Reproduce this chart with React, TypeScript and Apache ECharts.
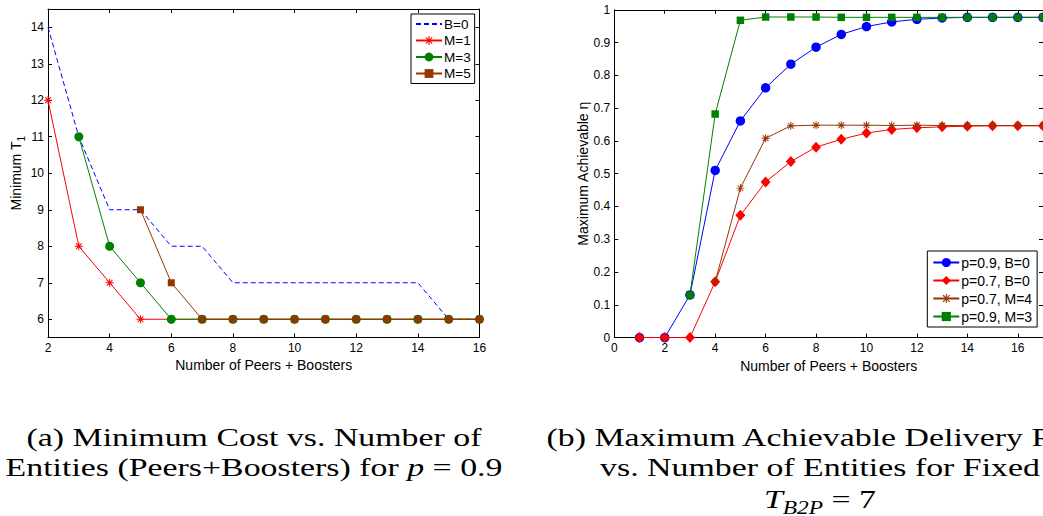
import React, { useEffect, useRef } from 'react';
import * as echarts from 'echarts';

// ---------- data ----------
const leftX = [2, 3, 4, 5, 6, 7, 8, 9, 10, 11, 12, 13, 14, 15, 16];
const leftB0 = [14, 11, 9, 9, 8, 8, 7, 7, 7, 7, 7, 7, 7, 6, 6];
const leftM1 = [12, 8, 7, 6, 6, 6, 6, 6, 6, 6, 6, 6, 6, 6, 6];
const leftM3 = [null, 11, 8, 7, 6, 6, 6, 6, 6, 6, 6, 6, 6, 6, 6];
const leftM5 = [null, null, null, 9, 7, 6, 6, 6, 6, 6, 6, 6, 6, 6, 6];
const leftNames = ['B=0', 'M=1', 'M=3', 'M=5'];
const leftXTicks = [2, 4, 6, 8, 10, 12, 14, 16];
const leftYTicks = [6, 7, 8, 9, 10, 11, 12, 13, 14];

const rightX = [1, 2, 3, 4, 5, 6, 7, 8, 9, 10, 11, 12, 13, 14, 15, 16, 17];
const rightP09B0 = [0, 0, 0.13, 0.51, 0.661, 0.762, 0.834, 0.886, 0.925, 0.949, 0.963, 0.971, 0.975, 0.977, 0.977, 0.977, 0.977];
const rightP07B0 = [0, 0, 0, 0.17, 0.373, 0.475, 0.537, 0.581, 0.605, 0.624, 0.635, 0.64, 0.643, 0.645, 0.646, 0.646, 0.646];
const rightP07M4 = [null, null, null, 0.17, 0.456, 0.608, 0.646, 0.648, 0.648, 0.648, 0.647, 0.648, 0.647, 0.647, 0.647, 0.647, 0.647];
const rightP09M3 = [null, null, 0.13, 0.682, 0.968, 0.978, 0.978, 0.978, 0.977, 0.977, 0.977, 0.977, 0.977, 0.977, 0.977, 0.977, 0.977];
const rightNames = ['p=0.9, B=0', 'p=0.7, B=0', 'p=0.7, M=4', 'p=0.9, M=3'];
const rightXTicks = [0, 2, 4, 6, 8, 10, 12, 14, 16];
const rightYTicks = [0, 0.1, 0.2, 0.3, 0.4, 0.5, 0.6, 0.7, 0.8, 0.9, 1];

const captionA = ['(a) Minimum Cost vs. Number of', 'Entities (Peers+Boosters) for ', 'p', ' = 0.9'];
const captionB = ['(b) Maximum Achievable Delivery Rate', 'vs. Number of Entities for Fixed', 'T', 'B2P', ' = 7'];

// ---------- styles ----------
const SANS = "'Liberation Sans', Arial, sans-serif";
const SERIF = "'Liberation Serif', 'Times New Roman', serif";
const BLUE = '#0000ff';
const RED = '#ff0000';
const GREEN = '#008000';
const BROWN = '#993300';
const ASTERISK =
  'path://M0,4.4H10V5.6H0Z M4.4,0H5.6V10H4.4Z M1,1.85L1.85,1L9,8.15L8.15,9Z M8.15,1L9,1.85L1.85,9L1,8.15Z';

const pairs = (xs: number[], ys: (number | null)[]) =>
  xs.map((x, i) => (ys[i] == null ? null : [x, ys[i] as number])).filter((p) => p !== null);

function axis(
  gridIndex: number,
  position: string,
  min: number,
  max: number,
  ticks: number[],
  showLabels: boolean,
  extra: any = {}
) {
  return {
    type: 'value',
    gridIndex,
    position,
    min,
    max,
    axisLine: { show: true, onZero: false, lineStyle: { color: '#000', width: 1 } },
    splitLine: { show: false },
    axisTick: { show: true, inside: true, length: 4, customValues: ticks, lineStyle: { color: '#000', width: 1 } },
    axisLabel: {
      show: showLabels,
      customValues: ticks,
      margin: 4,
      fontSize: 12,
      fontFamily: SANS,
      color: '#000',
    },
    ...extra,
  };
}

const nameStyle = { fontSize: 14, fontFamily: SANS, color: '#000' };

function buildOption(capScale: number) {
  const capRich = {
    r: { fontSize: 26, fontFamily: SERIF, lineHeight: 26, verticalAlign: 'top', fill: '#000', color: '#000' },
    i: { fontSize: 26, fontFamily: SERIF, fontStyle: 'italic', lineHeight: 26, verticalAlign: 'top', color: '#000' },
    s: {
      fontSize: 18,
      fontFamily: SERIF,
      fontStyle: 'italic',
      lineHeight: 18,
      padding: [12, 0, 0, 0],
      verticalAlign: 'top',
      color: '#000',
    },
  };
  const capText = (x: number, top: number, text: string) => ({
    type: 'text',
    x,
    y: top,
    scaleX: capScale,
    silent: true,
    style: { text, rich: capRich, align: 'center', verticalAlign: 'top', fill: '#000' },
  });

  return {
    animation: false,
    backgroundColor: '#fff',
    grid: [
      { left: 48, top: 9, width: 431.5, height: 328.5 },
      { left: 614.3, top: 9.8, width: 432.2, height: 327.8 },
    ],
    xAxis: [
      axis(0, 'bottom', 2, 16, leftXTicks, true, {
        name: 'Number of Peers + Boosters',
        nameLocation: 'middle',
        nameGap: 17,
        nameTextStyle: nameStyle,
      }),
      axis(0, 'top', 2, 16, leftXTicks, false),
      axis(1, 'bottom', 0, 17, rightXTicks, true, {
        name: 'Number of Peers + Boosters',
        nameLocation: 'middle',
        nameGap: 17,
        nameTextStyle: nameStyle,
      }),
      axis(1, 'top', 0, 17, rightXTicks, false),
    ],
    yAxis: [
      axis(0, 'left', 5.5, 14.5, leftYTicks, true, {
        name: '{m|Minimum T}{s|1}',
        nameLocation: 'middle',
        nameRotate: 90,
        nameGap: 22,
        nameTextStyle: {
          color: '#000',
          rich: {
            m: { fontSize: 14, fontFamily: SANS, lineHeight: 14, verticalAlign: 'top', color: '#000' },
            s: { fontSize: 10, fontFamily: SANS, lineHeight: 10, padding: [8, 0, 0, 0], verticalAlign: 'top', color: '#000' },
          },
        },
      }),
      axis(0, 'right', 5.5, 14.5, leftYTicks, false),
      axis(1, 'left', 0, 1, rightYTicks, true, {
        name: 'Maximum Achievable η',
        nameLocation: 'middle',
        nameRotate: 90,
        nameGap: 22,
        nameTextStyle: nameStyle,
      }),
      axis(1, 'right', 0, 1, rightYTicks, false),
    ],
    legend: [
      {
        data: [{ name: leftNames[0], itemStyle: { opacity: 0 } }, leftNames[1], leftNames[2], leftNames[3]],
        orient: 'vertical',
        left: 411,
        top: 14,
        padding: [3, 4, 3, 4],
        itemWidth: 26,
        itemHeight: 11,
        itemGap: 2.5,
        selectedMode: false,
        backgroundColor: '#fff',
        borderColor: '#000',
        borderWidth: 1,
        borderRadius: 0,
        textStyle: { fontSize: 13.5, fontFamily: SANS, color: '#000', lineHeight: 14, padding: [0, 0, 0, -3] },
      },
      {
        data: rightNames,
        orient: 'vertical',
        left: 927.3,
        top: 251,
        padding: [4, 5, 3, 5],
        itemWidth: 26,
        itemHeight: 11.5,
        itemGap: 3,
        selectedMode: false,
        backgroundColor: '#fff',
        borderColor: '#000',
        borderWidth: 1,
        borderRadius: 0,
        textStyle: { fontSize: 14, fontFamily: SANS, color: '#000', lineHeight: 15, padding: [0, 0, 0, -3] },
      },
    ],
    series: [
      {
        name: leftNames[0],
        type: 'line',
        xAxisIndex: 0,
        yAxisIndex: 0,
        data: pairs(leftX, leftB0),
        symbol: 'none',
        color: BLUE,
        lineStyle: { color: BLUE, width: 1, type: [5, 3] },
      },
      {
        name: leftNames[1],
        type: 'line',
        xAxisIndex: 0,
        yAxisIndex: 0,
        data: pairs(leftX, leftM1),
        symbol: ASTERISK,
        symbolSize: 8,
        color: RED,
        itemStyle: { color: RED },
        lineStyle: { color: RED, width: 1 },
      },
      {
        name: leftNames[2],
        type: 'line',
        xAxisIndex: 0,
        yAxisIndex: 0,
        data: pairs(leftX, leftM3),
        symbol: 'circle',
        symbolSize: 9,
        color: GREEN,
        itemStyle: { color: GREEN },
        lineStyle: { color: GREEN, width: 1 },
      },
      {
        name: leftNames[3],
        type: 'line',
        xAxisIndex: 0,
        yAxisIndex: 0,
        data: pairs(leftX, leftM5),
        symbol: 'rect',
        symbolSize: 7,
        color: BROWN,
        itemStyle: { color: BROWN },
        lineStyle: { color: BROWN, width: 1 },
      },
      {
        name: rightNames[0],
        type: 'line',
        xAxisIndex: 2,
        yAxisIndex: 2,
        data: pairs(rightX, rightP09B0),
        symbol: 'circle',
        symbolSize: 9.5,
        color: BLUE,
        itemStyle: { color: BLUE },
        lineStyle: { color: BLUE, width: 1 },
      },
      {
        name: rightNames[1],
        type: 'line',
        xAxisIndex: 2,
        yAxisIndex: 2,
        data: pairs(rightX, rightP07B0),
        symbol: 'diamond',
        symbolSize: [10, 11],
        color: RED,
        itemStyle: { color: RED },
        lineStyle: { color: RED, width: 1 },
      },
      {
        name: rightNames[2],
        type: 'line',
        xAxisIndex: 2,
        yAxisIndex: 2,
        data: pairs(rightX, rightP07M4),
        symbol: ASTERISK,
        symbolSize: 8,
        color: BROWN,
        itemStyle: { color: BROWN },
        lineStyle: { color: BROWN, width: 1 },
      },
      {
        name: rightNames[3],
        type: 'line',
        xAxisIndex: 2,
        yAxisIndex: 2,
        data: pairs(rightX, rightP09M3),
        symbol: 'rect',
        symbolSize: 7.5,
        color: GREEN,
        itemStyle: { color: GREEN },
        lineStyle: { color: GREEN, width: 1 },
      },
    ],
    graphic: [
      capText(254, 424.7, `{r|${captionA[0]}}`),
      capText(254, 454.2, `{r|${captionA[1]}}{i|${captionA[2]}}{r|${captionA[3]}}`),
      capText(820, 424.7, `{r|${captionB[0]}}`),
      capText(820, 454.2, `{r|${captionB[1]}}`),
      capText(820, 486.7, `{i|${captionB[2]}}{s|${captionB[3]}}{r|${captionB[4]}}`),
    ],
  };
}

export default function App() {
  const ref = useRef<HTMLDivElement>(null);
  useEffect(() => {
    if (!ref.current) return;
    let capScale = 1.33;
    try {
      const ctx = document.createElement('canvas').getContext('2d');
      if (ctx) {
        ctx.font = `26px ${SERIF}`;
        const w = ctx.measureText(captionB[1]).width;
        if (w > 0) capScale = 440 / w;
      }
    } catch (e) {
      /* keep default */
    }
    const chart = echarts.init(ref.current, null, { renderer: 'svg' });
    chart.setOption(buildOption(capScale) as any);
    return () => chart.dispose();
  }, []);
  return (
    <div
      ref={ref}
      style={{ position: 'fixed', left: 0, top: 0, width: 1043, height: 516, background: '#fff', overflow: 'hidden' }}
    />
  );
}
